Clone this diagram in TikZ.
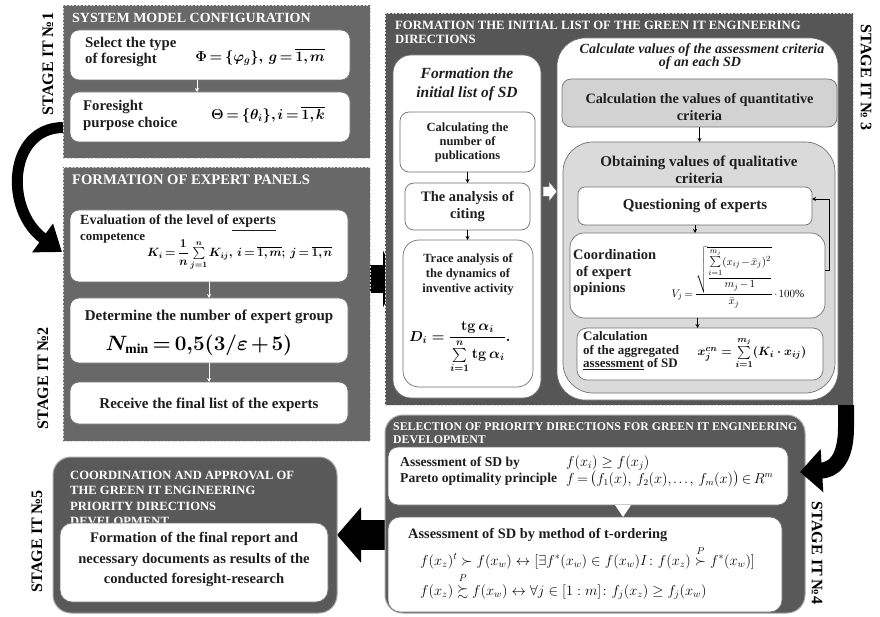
\documentclass[tikz,border=0pt]{standalone}
\usepackage{amsmath}
\usepackage{amssymb}
\usepackage{fontspec}
\setmainfont{Liberation Serif}
\usetikzlibrary{arrows.meta,calc}
\pgfdeclarelayer{bg}
\pgfsetlayers{bg,main}
\definecolor{pA}{HTML}{686868}
\definecolor{pB}{HTML}{565656}
\definecolor{pC}{HTML}{595959}
\definecolor{lg}{HTML}{D2D2D2}
\definecolor{lgb}{HTML}{DADADA}
\definecolor{bd}{HTML}{707070}
\definecolor{tx}{HTML}{1E1E1E}
\newcommand{\myfs}[2]{\fontsize{#1}{#2}\selectfont}
\newcommand{\tightm}{\thickmuskip=3mu plus 2mu\medmuskip=2mu plus 1mu\thinmuskip=2mu}
\newsavebox\fmA \newsavebox\fmB \newsavebox\fmC \newsavebox\fmD
\newsavebox\fmE \newsavebox\fmF \newsavebox\fmG \newsavebox\fmH
\newsavebox\fmI \newsavebox\fmJ \newsavebox\fmK
\begin{document}
\sbox\fmA{\myfs{14.5}{18}\boldmath\tightm$\Phi=\{\varphi_g\},\ g=\overline{1,m}$}
\sbox\fmB{\myfs{14.5}{18}\boldmath\tightm$\Theta=\{\theta_i\},i=\overline{1,k}$}
\sbox\fmC{\myfs{12}{14}\boldmath\tightm$K_i=\dfrac{1}{n}\sum\limits_{j=1}^{n}K_{ij},\ i=\overline{1,m};\ j=\overline{1,n}$}
\sbox\fmD{\myfs{19.5}{22}\boldmath\tightm$N_{\min}=0{,}5(3/\varepsilon+5)$}
\sbox\fmE{\myfs{14}{16}\boldmath$D_i=\dfrac{\mathbf{tg}\,\alpha_i}{\sum\limits_{i=1}^{n}\mathbf{tg}\,\alpha_i}.$}
\sbox\fmF{\myfs{11}{12}\tightm$V_j=\dfrac{\sqrt{\dfrac{\sum\limits_{i=1}^{m_j}(x_{ij}-\bar{x}_j)^2}{m_j-1}}}{\bar{x}_j}\cdot100\%$}
\sbox\fmG{\myfs{13}{15}\boldmath$x_j^{cn}=\sum\limits_{i=1}^{m_j}(K_i\cdot x_{ij})$}
\sbox\fmH{\myfs{14}{16}$f(x_i)\ge f(x_j)$}
\sbox\fmI{\myfs{13.5}{16}\tightm$f=\bigl(f_1(x),\ f_2(x),\dots,\ f_m(x)\bigr)\in R^m$}
\sbox\fmJ{\myfs{14}{16}$f(x_z)^t\succ f(x_w)\leftrightarrow[\exists f^*(x_w)\in f(x_w)I\colon f(x_z)\overset{P}{\succ} f^*(x_w)]$}
\sbox\fmK{\myfs{14}{16}$f(x_z)\overset{P}{\succsim} f(x_w)\leftrightarrow\forall j\in[1:m]\colon f_j(x_z)\ge f_j(x_w)$}
\begin{tikzpicture}[x=1pt,y=-1pt,
 panelA/.style={fill=pA, draw=white!85!black, dash pattern=on 2pt off 1.5pt, line width=0.9pt, anchor=north west, inner sep=0, outer sep=0},
 panelC/.style={fill=pC, draw=white!65!black, line width=1pt, rounded corners=18pt, anchor=north west, inner sep=0, outer sep=0},
 wbox/.style={fill=white, draw=bd, line width=0.7pt, rounded corners=9pt, anchor=north west, inner sep=0, outer sep=0},
 gbox/.style={wbox, fill=lg},
 ttl/.style={text=white, font=\bfseries\myfs{13}{14}, inner sep=0, anchor=base west},
 txt/.style={text=tx, font=\bfseries\myfs{14}{17}, inner sep=0},
 stg/.style={text=black, font=\bfseries\myfs{16}{16}, inner sep=0},
 warr/.style={draw=white, line width=0.9pt, -{Stealth[length=4pt,width=4pt]}},
 barr/.style={draw=black, line width=0.8pt, -{Stealth[length=4pt,width=4pt]}},
 frm/.style={text=tx, inner sep=0},
 bigarr/.style={draw=black}
]
\useasboundingbox (0,0) rectangle (880,617);

% ---------- stage panels ----------
\node[panelA, minimum width=307pt, minimum height=153pt] (s1) at (63,5) {};
\node[panelA, minimum width=307pt, minimum height=274pt] (s2) at (63,167) {};
\node[panelA, fill=pB, minimum width=468pt, minimum height=392pt] (s3) at (385,13) {};
\node[panelC, minimum width=420pt, minimum height=198pt] (s4) at (385,415) {};
\node[panelC, minimum width=284pt, minimum height=156pt] (s5) at (53,457) {};

% ---------- titles ----------
\node[ttl, font=\bfseries\myfs{14}{15}] (t1) at (72,23) {SYSTEM MODEL CONFIGURATION};
\node[ttl, font=\bfseries\myfs{14.6}{15}] (t2) at (72,185) {FORMATION OF EXPERT PANELS};
\node[ttl, font=\bfseries\myfs{12.7}{14}] (t3a) at (395,30) {FORMATION THE INITIAL LIST OF THE GREEN IT ENGINEERING};
\node[ttl, font=\bfseries\myfs{12.7}{14}] (t3b) at (395,44) {DIRECTIONS};
\node[ttl, font=\bfseries\myfs{11.8}{13}] (t4a) at (393,430) {SELECTION OF PRIORITY DIRECTIONS FOR GREEN IT ENGINEERING};
\node[ttl, font=\bfseries\myfs{11.8}{13}] (t4b) at (393,443) {DEVELOPMENT};
\node[ttl, font=\bfseries\myfs{12.6}{14}] (t5a) at (70,479) {COORDINATION AND APPROVAL OF};
\node[ttl, font=\bfseries\myfs{12.6}{14}] (t5b) at (70,494.5) {THE GREEN IT ENGINEERING};
\node[ttl, font=\bfseries\myfs{12.6}{14}] (t5c) at (70,510) {PRIORITY DIRECTIONS};
\node[ttl, font=\bfseries\myfs{12.6}{14}] (t5d) at (70,525.5) {DEVELOPMENT};

% ---------- stage 1 ----------
\node[wbox, minimum width=280pt, minimum height=50pt] (b1a) at (70,30) {};
\node[wbox, minimum width=280pt, minimum height=50pt] (b1b) at (70,92) {};
\node[txt, anchor=base west, font=\bfseries\myfs{14.8}{17}] (b1at1) at (85,48) {Select the type};
\node[txt, anchor=base west, font=\bfseries\myfs{14.8}{17}] (b1at2) at (85,64) {of foresight};
\node[txt, anchor=base west, font=\bfseries\myfs{14.8}{17}] (b1bt1) at (83,111) {Foresight};
\node[txt, anchor=base west, font=\bfseries\myfs{14.8}{17}] (b1bt2) at (83,128) {purpose choice};
\node[frm] (f1a) at (260,57) {\usebox\fmA};
\node[frm] (f1b) at (268,115) {\usebox\fmB};
\draw[warr] ([xshift=-13pt]b1a.south) -- ([xshift=-13pt]b1b.north);

% ---------- stage 2 ----------
\node[wbox, minimum width=278pt, minimum height=72pt] (b2a) at (70,210) {};
\node[wbox, minimum width=278pt, minimum height=65pt] (b2b) at (70,298) {};
\node[wbox, minimum width=278pt, minimum height=42pt] (b2c) at (70,382) {};
\node[txt, anchor=base west] (b2at1) at (80,225) {Evaluation of the level of \underline{experts}};
\node[txt, anchor=base west, font=\bfseries\myfs{13}{15}] (b2at2) at (80,241) {competence};
\node[frm, anchor=west] (f2a) at (147,255) {\usebox\fmC};
\node[txt, anchor=base, font=\bfseries\myfs{15}{17}] (b2bt) at ($(b2b.north)+(0,22)$) {Determine the number of expert group};
\node[frm, anchor=base] (f2b) at ($(b2b.north)+(-10,52)$) {\usebox\fmD};
\node[txt, anchor=base, font=\bfseries\myfs{15}{17}] (b2ct) at ($(b2c.south)+(0,-16)$) {Receive the final list of the experts};
\draw[warr] (b2a.south) -- (b2b.north);
\draw[warr] (b2b.south) -- (b2c.north);

% ---------- stage 3: left column ----------
\node[wbox, rounded corners=18pt, minimum width=148pt, minimum height=343pt] (lc) at (393,55) {};
\node[txt, font=\bfseries\itshape\myfs{15.5}{19}, align=center, anchor=north] (lct) at (467,67.5) {Formation the\\initial list of SD};
\node[wbox, minimum width=135pt, minimum height=60pt] (lb1) at (400,112) {};
\node[txt, font=\bfseries\myfs{12.5}{14}, align=center] (lb1t) at (lb1.center) {Calculating the\\number of\\publications};
\node[wbox, minimum width=125pt, minimum height=47pt] (lb2) at (405,183) {};
\node[txt, font=\bfseries\myfs{14.5}{17}, align=center] (lb2t) at (lb2.center) {The analysis of\\citing};
\node[wbox, rounded corners=16pt, minimum width=130pt, minimum height=147pt] (lb3) at (403,240) {};
\node[txt, font=\bfseries\myfs{12.5}{15}, align=center, anchor=north] (lb3t) at (468,253) {Trace analysis of\\the dynamics of\\inventive activity};
\node[frm, anchor=west] (fD) at (409,347) {\usebox\fmE};
\draw[barr] (lb1.south) -- (lb1.south |- lb2.north);
\draw[barr] (lb2.south) -- (lb2.south |- lb3.north);

% ---------- stage 3: right column ----------
\node[wbox, rounded corners=28pt, minimum width=281pt, minimum height=362pt] (rc) at (557,38) {};
\node[txt, font=\bfseries\itshape\myfs{14}{13}, anchor=base] (rct1) at (702,54) {Calculate values of the assessment criteria};
\node[txt, font=\bfseries\itshape\myfs{14}{13}, anchor=base] (rct2) at (700,67) {of an each SD};
\node[gbox, minimum width=275pt, minimum height=48pt] (q1) at (562,79) {};
\node[txt, font=\bfseries\myfs{14.3}{17}, align=center] (q1t) at ($(q1.center)+(0,4)$) {Calculation the values of quantitative\\criteria};
\node[gbox, fill=lgb, rounded corners=30pt, minimum width=272pt, minimum height=251pt] (q2) at (563,142) {};
\node[txt, font=\bfseries\myfs{15}{17}, align=center, anchor=north] (q2t) at (699,156) {Obtaining values of qualitative\\criteria};
\node[wbox, rounded corners=7pt, minimum width=234pt, minimum height=38pt] (qa) at (578,187) {};
\node[txt, font=\bfseries\myfs{15}{17}] (qat) at (qa.center) {Questioning of experts};
\node[wbox, rounded corners=14pt, minimum width=255pt, minimum height=85pt] (qb) at (570,233) {};
\node[txt, anchor=base west, font=\bfseries\myfs{14.5}{17}] (qbt1) at (573,260) {Coordination};
\node[txt, anchor=base west, font=\bfseries\myfs{14.5}{17}] (qbt2) at (576,277) {of expert};
\node[txt, anchor=base west, font=\bfseries\myfs{14.5}{17}] (qbt3) at (573,293) {opinions};
\node[frm] (fV) at (738,277) {\usebox\fmF};
\node[wbox, rounded corners=10pt, minimum width=246pt, minimum height=52pt] (qc) at (577,328) {};
\node[txt, anchor=base west, font=\bfseries\myfs{13}{13}] (qct1) at (583,341) {Calculation};
\node[txt, anchor=base west, font=\bfseries\myfs{13}{13}] (qct2) at (583,354) {of the aggregated};
\node[txt, anchor=base west, font=\bfseries\myfs{13}{13}] (qct3) at (583,367) {\underline{assessment} of SD};
\node[frm] (fX) at (752,353) {\usebox\fmG};
\draw[barr] (q1.south) -- (q1.south |- q2.north);
\draw[barr] (qa.south) -- (qa.south |- qb.north);
\draw[barr] (qb.south) -- (qb.south |- qc.north);
\draw[barr] ([yshift=5pt]qb.east) -- ++(4,0) |- ([yshift=7pt]qa.east);
% white block arrow between columns
\filldraw[fill=white, draw=bd, line width=0.6pt] ([xshift=2pt,yshift=40pt]lc.east) -- ++(6,0) -- ++(0,-5) -- ++(8,10) -- ++(-8,10) -- ++(0,-5) -- ++(-6,0) -- cycle;

% ---------- stage 4 ----------
\node[wbox, rounded corners=10pt, minimum width=400pt, minimum height=58pt] (b4a) at (388,447) {};
\node[wbox, rounded corners=12pt, minimum width=394pt, minimum height=95pt] (b4b) at (388,517) {};
\node[txt, anchor=base west, font=\bfseries\myfs{13.6}{15}] (b4at1) at (400,466) {Assessment of SD by};
\node[txt, anchor=base west, font=\bfseries\myfs{13.6}{15}] (b4at2) at (400,482) {Pareto optimality principle};
\node[frm, anchor=base west] (f4a) at (566,466) {\usebox\fmH};
\node[frm, anchor=base west] (f4b) at (566,483) {\usebox\fmI};
\fill[white] ([xshift=27pt]b4a.south) -- ([xshift=43pt]b4a.south) -- ([xshift=35pt,yshift=-12pt]b4a.south) -- cycle;
\node[txt, anchor=base west, font=\bfseries\myfs{14.4}{16}] (b4bt) at (408,538) {Assessment of SD by method of t-ordering};
\node[frm, anchor=base west] (f4c) at (420,565) {\usebox\fmJ};
\node[frm, anchor=base west] (f4d) at (420,595) {\usebox\fmK};

% ---------- stage 5 ----------
\node[wbox, rounded corners=12pt, minimum width=268pt, minimum height=79pt] (b5) at (60,523) {};
\node[txt, font=\bfseries\myfs{14.6}{20.5}, align=center] (b5t) at ($(b5.center)+(0,-3)$) {Formation of the final report and\\necessary documents as results of the\\conducted foresight-research};

% ---------- stage labels ----------
\node[stg, rotate=90] (l1) at (48,64) {STAGE IT №1};
\node[stg, rotate=90] (l2) at (43,378) {STAGE IT №2};
\node[stg, rotate=-90] (l3) at (866,78) {STAGE IT № 3};
\node[stg, rotate=-90] (l4) at (817,553) {STAGE IT №4};
\node[stg, rotate=90] (l5) at (37,541) {STAGE IT №5};

% ---------- big arrows ----------
\coordinate (e23) at (398,279);
\begin{pgfonlayer}{bg}
\fill[white] (0,0) rectangle (880,617);
\draw[bigarr, line width=11pt, -{Triangle[length=24pt,width=34pt]}] ([yshift=-46pt]s1.west) .. controls (8,128) and (4,210) .. ([xshift=-8pt,yshift=-6pt]b2a.west);
\draw[bigarr, line width=28pt, -{Triangle[length=15pt,width=56pt]}] ([yshift=25pt]s2.east) -- (e23);
\draw[bigarr, line width=30pt, -{Triangle[length=24pt,width=54pt]}] (s4.west |- s5.east) -- (s5.east);
\end{pgfonlayer}
\draw[bigarr, line width=16pt, -{Triangle[length=22pt,width=42pt]}] ([xshift=-7pt]s3.south east) -- ++(0,22) .. controls (846,462) and (832,470) .. ([xshift=-5pt,yshift=42pt]s4.east);
\end{tikzpicture}
\end{document}
